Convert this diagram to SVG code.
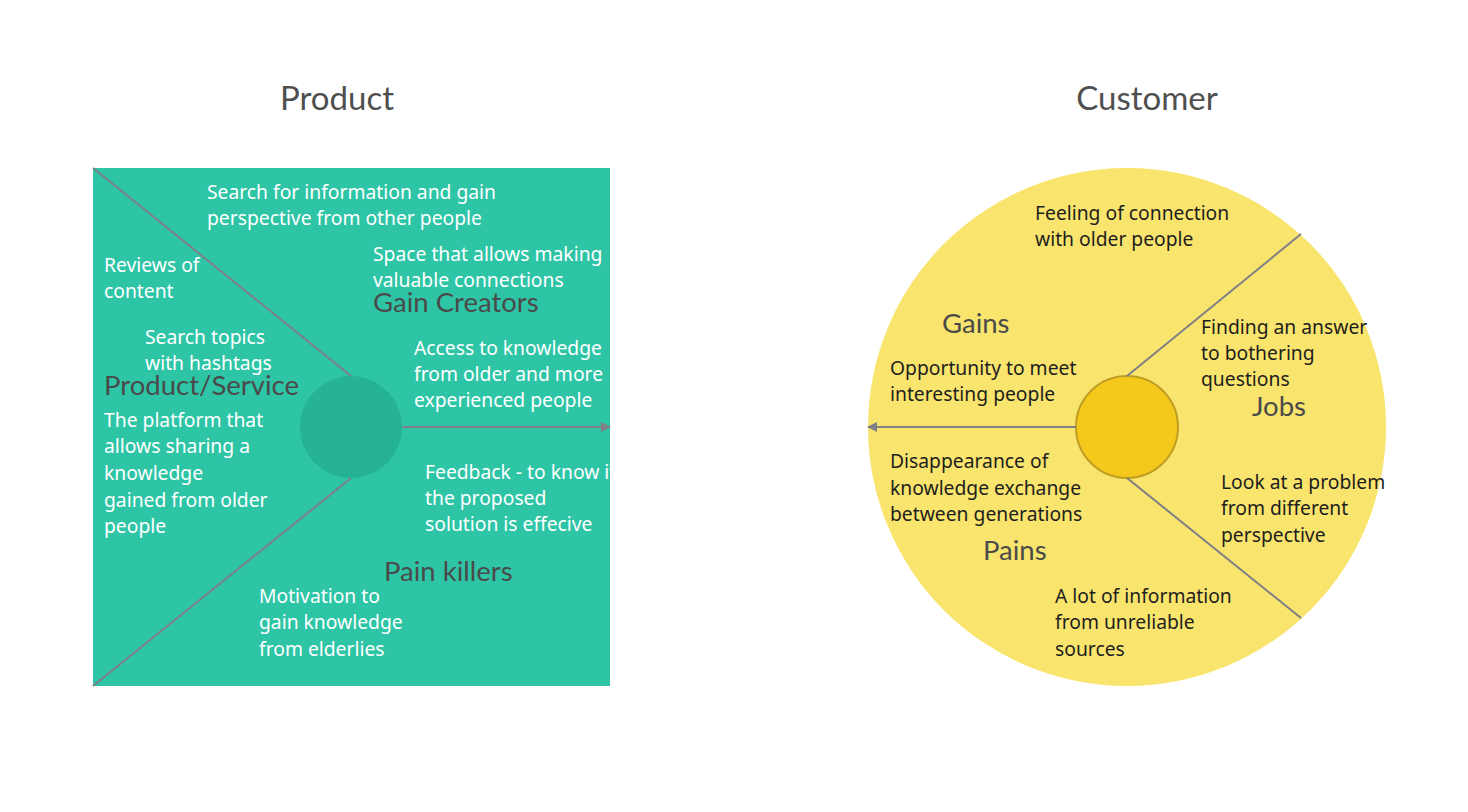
<svg xmlns="http://www.w3.org/2000/svg" width="1468" height="812" viewBox="0 0 1468 812">
<style>
.t{font-family:"Noto Sans","Open Sans",sans-serif;font-size:19.3px}
.w{fill:#ffffff}
.k{fill:#1e1e1e}
.lab{font-family:Lato,"Noto Sans",sans-serif;font-size:27.5px;fill:#4a4a4a}
.title{font-family:Lato,"Noto Sans",sans-serif;font-size:33px;fill:#4f4f4f}
.ln{stroke:#7f7f86;stroke-width:2;fill:none}
</style>
<defs>
<marker id="ah" markerWidth="10" markerHeight="10" refX="9" refY="5" orient="auto" markerUnits="userSpaceOnUse">
<path d="M0,0 L10,5 L0,10 Z" fill="#7f7f86"/>
</marker>
<clipPath id="sq"><rect x="93" y="168" width="517" height="518"/></clipPath>
</defs>
<rect width="1468" height="812" fill="#ffffff"/>
<text class="title" x="337" y="110" text-anchor="middle">Product</text>
<text class="title" x="1147" y="110" text-anchor="middle">Customer</text>

<g id="product">
<rect x="93" y="168" width="517" height="518" fill="#2ec5a6"/>
<circle id="product-core" cx="351" cy="427" r="51" fill="#26b294"/>
</g>
<g id="customer">
<circle cx="1127" cy="427" r="259" fill="#f9e46d"/>
<circle id="customer-core" cx="1127" cy="427" r="51" fill="#f5c91c" stroke="#bf9d22" stroke-width="2"/>
</g>

<g id="connectors">
<line class="ln" x1="93" y1="168" x2="351" y2="376"/>
<line class="ln" x1="93" y1="686" x2="351" y2="478"/>
<line class="ln" x1="402" y1="427" x2="610" y2="427" marker-end="url(#ah)"/>
<line class="ln" x1="1127" y1="376" x2="1301" y2="234"/>
<line class="ln" x1="1127" y1="478" x2="1301" y2="618"/>
<line class="ln" x1="1076" y1="427" x2="868" y2="427" marker-end="url(#ah)"/>
</g>

<g id="product-texts" clip-path="url(#sq)">
<text class="t w" x="207" y="199">Search for information and gain</text>
<text class="t w" x="207" y="225">perspective from other people</text>
<text class="t w" x="104" y="272">Reviews of</text>
<text class="t w" x="104" y="298">content</text>
<text class="t w" x="373" y="261">Space that allows making</text>
<text class="t w" x="373" y="287">valuable connections</text>
<text class="lab" x="373" y="312">Gain Creators</text>
<text class="t w" x="145" y="344">Search topics</text>
<text class="t w" x="145" y="370">with hashtags</text>
<text class="lab" x="104" y="395">Product/Service</text>
<text class="t w" x="104" y="427">The platform that</text>
<text class="t w" x="104" y="453">allows sharing a</text>
<text class="t w" x="104" y="480">knowledge</text>
<text class="t w" x="104" y="507">gained from older</text>
<text class="t w" x="104" y="533">people</text>
<text class="t w" x="414" y="355">Access to knowledge</text>
<text class="t w" x="414" y="381">from older and more</text>
<text class="t w" x="414" y="407">experienced people</text>
<text class="t w" x="425" y="479">Feedback - to know if</text>
<text class="t w" x="425" y="505">the proposed</text>
<text class="t w" x="425" y="531">solution is effecive</text>
<text class="lab" x="384" y="581">Pain killers</text>
<text class="t w" x="259" y="603">Motivation to</text>
<text class="t w" x="259" y="629">gain knowledge</text>
<text class="t w" x="259" y="656">from elderlies</text>
</g>

<g id="customer-texts">
<text class="t k" x="1035" y="220">Feeling of connection</text>
<text class="t k" x="1035" y="246">with older people</text>
<text class="lab" x="942" y="333">Gains</text>
<text class="t k" x="1201" y="334">Finding an answer</text>
<text class="t k" x="1201" y="360">to bothering</text>
<text class="t k" x="1201" y="386">questions</text>
<text class="t k" x="890" y="375">Opportunity to meet</text>
<text class="t k" x="890" y="401">interesting people</text>
<text class="lab" x="1252" y="416">Jobs</text>
<text class="t k" x="890" y="468">Disappearance of</text>
<text class="t k" x="890" y="495">knowledge exchange</text>
<text class="t k" x="890" y="521">between generations</text>
<text class="t k" x="1221" y="489">Look at a problem</text>
<text class="t k" x="1221" y="515">from different</text>
<text class="t k" x="1221" y="542">perspective</text>
<text class="lab" x="983" y="560">Pains</text>
<text class="t k" x="1055" y="603">A lot of information</text>
<text class="t k" x="1055" y="629">from unreliable</text>
<text class="t k" x="1055" y="656">sources</text>
</g>
</svg>
